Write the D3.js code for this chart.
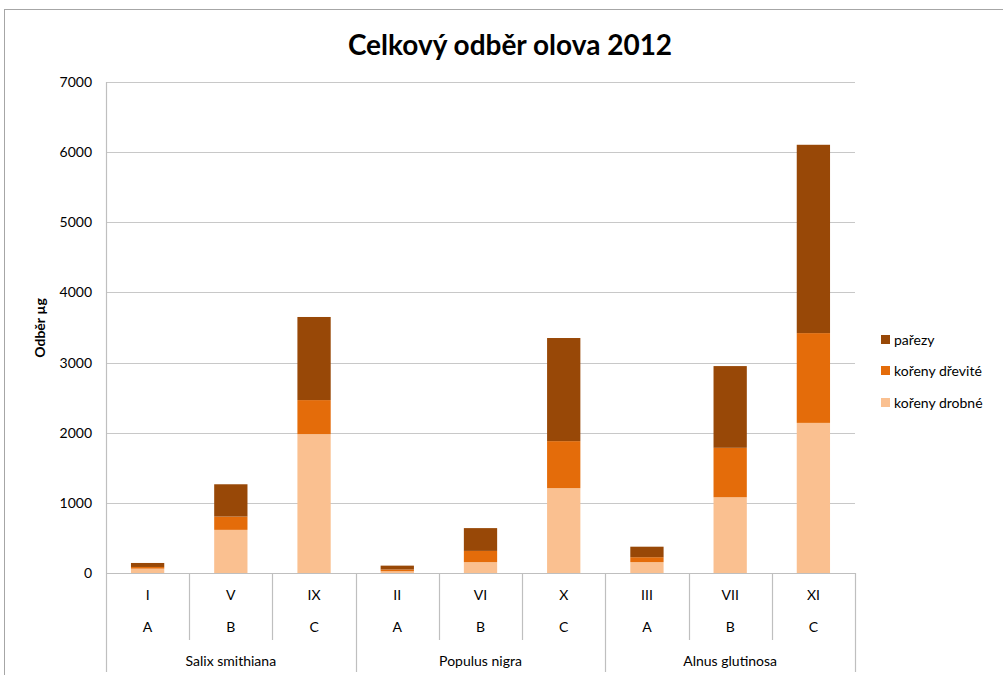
<!DOCTYPE html>
<html>
<head>
<meta charset="utf-8">
<script src="https://cdn.jsdelivr.net/npm/d3@7"></script>
<style>
  html, body { margin: 0; padding: 0; background: #fff; }
  svg { display: block; font-family: Lato, "Open Sans", sans-serif; }
</style>
</head>
<body>
<svg id="chart" width="1003" height="675"></svg>
<script>
// Plot labels (three-level category axis)
const bedLabels = ["I", "V", "IX", "II", "VI", "X", "III", "VII", "XI"];
const variantLabels = ["A", "B", "C", "A", "B", "C", "A", "B", "C"];
const speciesLabels = ["Salix smithiana", "Populus nigra", "Alnus glutinosa"];

// Lead uptake per plant part (µg)
const korenyDrobne = [62, 615, 1980, 25, 155, 1210, 155, 1080, 2140];
const korenyDrevite = [24, 190, 485, 25, 160, 670, 70, 705, 1280];
const parezy = [57, 460, 1185, 55, 325, 1470, 150, 1165, 2685];

const seriesNames = ["kořeny drobné", "kořeny dřevité", "pařezy"];
const seriesColors = ["#FAC090", "#E46C0A", "#984807"];
const yTicks = [0, 1000, 2000, 3000, 4000, 5000, 6000, 7000];

const svg = d3.select("#chart");
const W = 1003, H = 675;
const plot = { left: 106, right: 855, top: 82, bottom: 573 };

// chart frame
svg.append("rect")
  .attr("x", 4.5).attr("y", 9.5)
  .attr("width", W + 10).attr("height", H + 10)
  .attr("fill", "#fff").attr("stroke", "#a6a6a6").attr("stroke-width", 1);

// title
svg.append("text")
  .attr("x", 510).attr("y", 55)
  .attr("text-anchor", "middle")
  .attr("font-size", 28).attr("font-weight", "bold").attr("fill", "#000")
  .text("Celkový odběr olova 2012");

const rows = bedLabels.map((b, i) => ({
  key: i,
  "kořeny drobné": korenyDrobne[i],
  "kořeny dřevité": korenyDrevite[i],
  "pařezy": parezy[i]
}));

const x = d3.scaleBand()
  .domain(d3.range(bedLabels.length))
  .range([plot.left, plot.right])
  .paddingInner(0.6).paddingOuter(0.3);

const y = d3.scaleLinear().domain([0, 7000]).range([plot.bottom, plot.top]);

// gridlines
svg.append("g")
  .selectAll("line").data(yTicks.slice(1)).join("line")
  .attr("x1", plot.left).attr("x2", plot.right)
  .attr("y1", d => Math.round(y(d)) + 0.5).attr("y2", d => Math.round(y(d)) + 0.5)
  .attr("stroke", "#c8c8c8").attr("stroke-width", 1.2);

// y axis labels
const yAxis = d3.axisLeft(y).tickValues(yTicks).tickFormat(d3.format("d")).tickSize(0).tickPadding(14);
const yg = svg.append("g").attr("transform", `translate(${plot.left},0)`).call(yAxis);
yg.select(".domain").remove();
yg.selectAll("text").attr("font-size", 14).attr("fill", "#000")
  .attr("font-family", "Lato, 'Open Sans', sans-serif");

// y axis title
svg.append("text")
  .attr("transform", "translate(45,328) rotate(-90)")
  .attr("text-anchor", "middle")
  .attr("font-size", 14).attr("font-weight", "bold")
  .text("Odběr µg");

// stacked bars
const stack = d3.stack().keys(seriesNames);
const layers = stack(rows);
svg.append("g").selectAll("g").data(layers).join("g")
  .attr("fill", (d, i) => seriesColors[i])
  .selectAll("rect").data(d => d).join("rect")
  .attr("x", d => x(d.data.key))
  .attr("width", x.bandwidth())
  .attr("y", d => y(d[1]))
  .attr("height", d => y(d[0]) - y(d[1]));

// category axis lines
const axisColor = "#bfbfbf";
const step = x.step();
const axisG = svg.append("g").attr("stroke", axisColor).attr("stroke-width", 1.2);
axisG.append("line")
  .attr("x1", plot.left).attr("x2", plot.right)
  .attr("y1", plot.bottom + 0.5).attr("y2", plot.bottom + 0.5);
axisG.append("line")
  .attr("x1", plot.left + 0.5).attr("x2", plot.left + 0.5)
  .attr("y1", plot.top).attr("y2", 672);
d3.range(1, bedLabels.length + 1).forEach(i => {
  const xx = Math.round(plot.left + i * step) + 0.5;
  const isGroup = i % 3 === 0;
  axisG.append("line")
    .attr("x1", xx).attr("x2", xx)
    .attr("y1", plot.bottom).attr("y2", isGroup ? 672 : 640);
});

// category labels
const labG = svg.append("g").attr("font-size", 14).attr("fill", "#000").attr("text-anchor", "middle");
bedLabels.forEach((b, i) => {
  const cx = x(i) + x.bandwidth() / 2;
  labG.append("text").attr("x", cx).attr("y", 600).text(b);
  labG.append("text").attr("x", cx).attr("y", 632).text(variantLabels[i]);
});
speciesLabels.forEach((s, g) => {
  const cx = plot.left + (g * 3 + 1.5) * step;
  labG.append("text").attr("x", cx).attr("y", 666).text(s);
});

// legend
const legendItems = [
  { name: "pařezy", color: seriesColors[2], y: 340 },
  { name: "kořeny dřevité", color: seriesColors[1], y: 371 },
  { name: "kořeny drobné", color: seriesColors[0], y: 403 }
];
const lg = svg.append("g");
legendItems.forEach(it => {
  lg.append("rect").attr("x", 881).attr("y", it.y - 5).attr("width", 9).attr("height", 9).attr("fill", it.color);
  lg.append("text").attr("x", 894).attr("y", it.y + 5).attr("font-size", 14).attr("fill", "#000").text(it.name);
});
</script>
</body>
</html>
